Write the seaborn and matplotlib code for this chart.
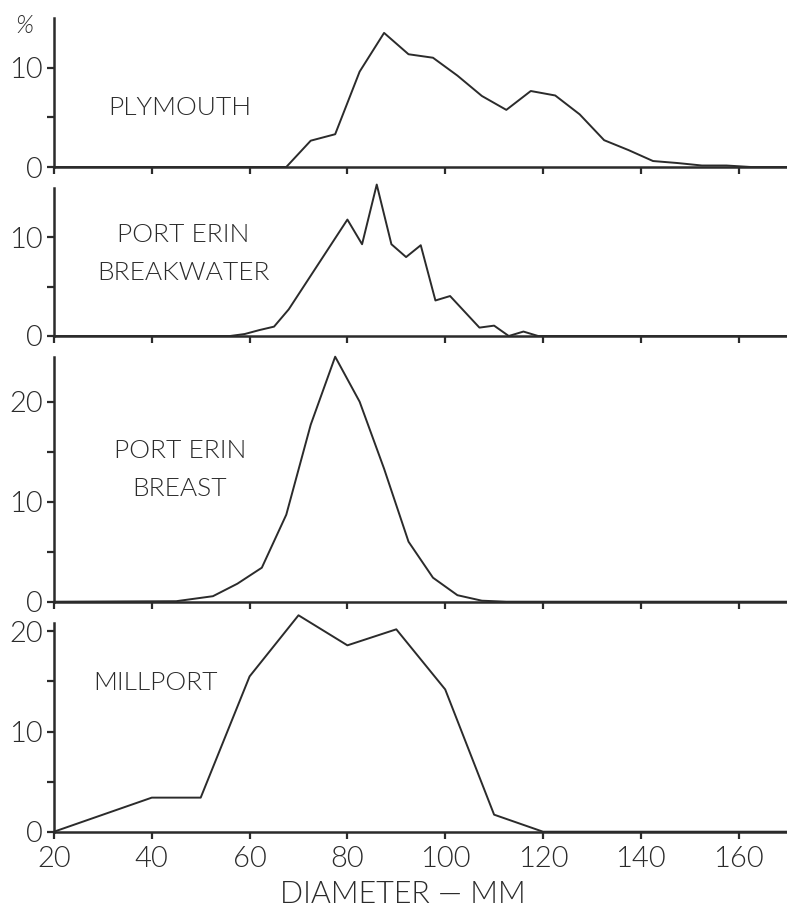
import matplotlib
matplotlib.use("Agg")
import matplotlib.pyplot as plt
import seaborn as sns
import pandas as pd

# ---- data ----
plymouth_mm = [20, 67.5, 72.5, 77.5, 82.5, 87.5, 92.5, 97.5, 102.5, 107.5, 112.5,
               117.5, 122.5, 127.5, 132.5, 137.5, 142.5, 147.5, 152.5, 157.5, 162.5, 171]
plymouth_pct = [0, 0, 2.65, 3.3, 9.6, 13.5, 11.35, 11.0, 9.2, 7.15, 5.75,
                7.65, 7.2, 5.3, 2.7, 1.7, 0.6, 0.4, 0.15, 0.15, 0, 0]

breakwater_mm = [20, 56, 59, 62, 65, 68, 80, 83, 86, 89, 92, 95, 98, 101,
                 107, 110, 113, 116, 119, 171]
breakwater_pct = [0, 0, 0.2, 0.6, 0.95, 2.7, 11.8, 9.3, 15.35, 9.3, 8.0, 9.2, 3.6, 4.05,
                  0.85, 1.05, 0, 0.45, 0, 0]

breast_mm = [20, 45, 52.5, 57.5, 62.5, 67.5, 72.5, 77.5, 82.5, 87.5, 92.5,
             97.5, 102.5, 107.5, 112.5, 171]
breast_pct = [0, 0.05, 0.55, 1.8, 3.4, 8.7, 17.7, 24.5, 20.0, 13.3, 6.0,
              2.4, 0.65, 0.1, 0, 0]

millport_mm = [20, 40, 50, 60, 70, 80, 90, 100, 110, 120, 171]
millport_pct = [0, 3.4, 3.4, 15.5, 21.6, 18.6, 20.2, 14.2, 1.7, 0, 0]

panel_names = ["PLYMOUTH", "PORT ERIN\nBREAKWATER", "PORT ERIN\nBREAST", "MILLPORT"]
x_ticks = [20, 40, 60, 80, 100, 120, 140, 160]
x_label = "DIAMETER — MM"
y_unit = "%"

panels = [
    (plymouth_mm, plymouth_pct),
    (breakwater_mm, breakwater_pct),
    (breast_mm, breast_pct),
    (millport_mm, millport_pct),
]

# ---- layout / style ----
sns.set_style("ticks")
plt.rcParams["font.family"] = ["Lato", "DejaVu Sans"]
FW = 300

INK = "#2b2b2b"
W, H = 787, 911
fig = plt.figure(figsize=(W / 100, H / 100), dpi=100)
fig.patch.set_facecolor("white")

# pixel geometry: (top_px, bottom_px, ymax, yticks)
geom = [
    (18, 167, 15.0, [0, 5, 10]),
    (188, 336, 15.0, [0, 5, 10]),
    (356.7, 601.7, 24.5, [0, 5, 10, 15, 20]),
    (623.3, 831.7, 20.8, [0, 5, 10, 15, 20]),
]
label_pos = [(180, 108), (183, 254), (180, 470), (155, 683)]

left_px = 54
for i, ((xs, ys), (top, bot, ymax, yt)) in enumerate(zip(panels, geom)):
    ax = fig.add_axes([left_px / W, 1 - bot / H, (W - left_px) / W, (bot - top) / H])
    ax.set_facecolor("white")
    df = pd.DataFrame({"mm": xs, "pct": ys})
    sns.lineplot(data=df, x="mm", y="pct", ax=ax, color=INK, lw=1.4,
                 estimator=None, sort=False, clip_on=False)
    ax.set_xlim(20, 20 + (W - left_px) / 4.89)
    ax.set_ylim(0, ymax)
    ax.set_yticks(yt)
    ax.set_yticklabels([str(v) if v % 10 == 0 else "" for v in yt], fontweight=FW)
    ax.set_xticks(x_ticks)
    for side in ("top", "right"):
        ax.spines[side].set_visible(False)
    for side in ("left", "bottom"):
        ax.spines[side].set_linewidth(1.8)
        ax.spines[side].set_color(INK)
    ax.tick_params(axis="both", direction="out", length=5, width=1.6,
                   color=INK, labelcolor=INK, labelsize=21, pad=3)
    ax.set_ylabel("")
    if i < 3:
        ax.set_xticklabels([])
        ax.set_xlabel("")
    else:
        ax.set_xticklabels([str(v) for v in x_ticks], fontweight=FW)
        ax.tick_params(axis="x", pad=5)
        ax.set_xlabel(x_label, fontsize=22, color=INK, fontweight=FW)
        ax.xaxis.set_label_coords((403 - left_px) / (W - left_px), -0.23)
    lx, ly = label_pos[i]
    fig.text(lx / W, 1 - ly / H, panel_names[i], ha="center", va="center",
             fontsize=19, color=INK, linespacing=1.75, fontweight=FW)

fig.text(24 / W, 1 - 26 / H, y_unit, ha="center", va="center", fontsize=18,
         style="italic", color=INK, fontweight=FW)

fig.savefig("out.png", dpi=100, facecolor="white")
